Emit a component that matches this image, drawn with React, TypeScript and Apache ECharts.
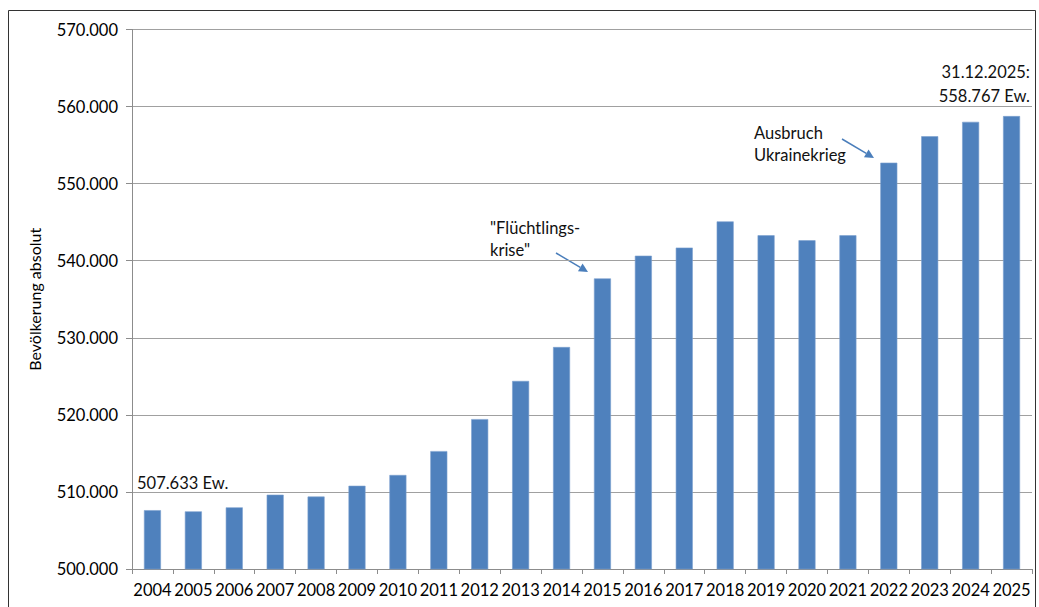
import React, { useEffect, useRef } from "react";
import * as echarts from "echarts";

const years = ["2004","2005","2006","2007","2008","2009","2010","2011","2012","2013","2014","2015","2016","2017","2018","2019","2020","2021","2022","2023","2024","2025"];
const population = [507633,507480,508000,509640,509400,510800,512200,515300,519450,524400,528800,537700,540650,541700,545100,543300,542650,543300,552720,556150,558020,558767];
const yTicks = { min: 500000, max: 570000, interval: 10000 };

const FONT = "Lato, 'Open Sans', sans-serif";
const fmt = (v: number) => {
  const s = Math.round(v).toString();
  return s.replace(/\B(?=(\d{3})+(?!\d))/g, ".");
};

function arrow(x1: number, y1: number, x2: number, y2: number, color: string) {
  const ang = Math.atan2(y2 - y1, x2 - x1);
  const len = 9, w = 4.5;
  const bx = x2 - len * Math.cos(ang), by = y2 - len * Math.sin(ang);
  const px = -Math.sin(ang) * w, py = Math.cos(ang) * w;
  return [
    { type: "line", shape: { x1, y1, x2: bx, y2: by }, style: { stroke: color, lineWidth: 1.5 } },
    { type: "polygon", shape: { points: [[x2, y2], [bx + px, by + py], [bx - px, by - py]] }, style: { fill: color } },
  ];
}

export default function App() {
  const ref = useRef<HTMLDivElement>(null);
  useEffect(() => {
    if (!ref.current) return;
    const chart = echarts.init(ref.current, null, { renderer: "svg" });
    const txt = { fontFamily: FONT, fontSize: 16.5, fill: "#111" };
    chart.setOption({
      animation: false,
      backgroundColor: "#fff",
      grid: { left: 132, right: 7, top: 29.5, bottom: 38, containLabel: false },
      xAxis: {
        type: "category",
        data: years,
        axisLine: { lineStyle: { color: "#8c8c8c", width: 1 } },
        axisTick: { show: true, length: 5, interval: 0, lineStyle: { color: "#8c8c8c" } },
        axisLabel: { color: "#000", fontFamily: FONT, fontSize: 16.5, margin: 12, interval: 0 },
      },
      yAxis: {
        type: "value",
        min: yTicks.min,
        max: yTicks.max,
        interval: yTicks.interval,
        name: "Bevölkerung absolut",
        nameLocation: "middle",
        nameGap: 90,
        nameTextStyle: { color: "#000", fontFamily: FONT, fontSize: 16 },
        axisLine: { show: true, lineStyle: { color: "#8c8c8c" } },
        axisTick: { show: true, length: 6, lineStyle: { color: "#8c8c8c" } },
        axisLabel: { color: "#000", fontFamily: FONT, fontSize: 16.5, margin: 14, formatter: (v: number) => fmt(v) },
        splitLine: { lineStyle: { color: "#a0a0a0", width: 1.2 } },
      },
      series: [
        {
          type: "bar",
          data: population,
          barWidth: 17,
          itemStyle: { color: "#4f81bd", borderColor: "#7aa0cf", borderWidth: 0.6 },
        },
      ],
      graphic: [
        { type: "rect", shape: { x: 8.5, y: 10.5, width: 1027, height: 610 }, style: { fill: "none", stroke: "#333", lineWidth: 1 }, silent: true },
        { type: "text", x: 137, y: 483, style: { ...txt, text: "507.633 Ew.", textVerticalAlign: "middle" } },
        { type: "text", x: 1030, y: 72, style: { ...txt, text: "31.12.2025:", textAlign: "right", textVerticalAlign: "middle" } },
        { type: "text", x: 1030, y: 96, style: { ...txt, text: "558.767 Ew.", textAlign: "right", textVerticalAlign: "middle" } },
        { type: "text", x: 490, y: 228, style: { ...txt, text: "\"Flüchtlings-", textVerticalAlign: "middle" } },
        { type: "text", x: 490, y: 250, style: { ...txt, text: "krise\"", textVerticalAlign: "middle" } },
        { type: "text", x: 754, y: 133, style: { ...txt, text: "Ausbruch", textVerticalAlign: "middle" } },
        { type: "text", x: 754, y: 155, style: { ...txt, text: "Ukrainekrieg", textVerticalAlign: "middle" } },
        ...arrow(556, 253, 588, 272, "#4a7ebb"),
        ...arrow(842, 139, 874, 158, "#4a7ebb"),
      ],
    });
    return () => chart.dispose();
  }, []);
  return <div ref={ref} style={{ position: "absolute", left: 0, top: 0, width: 1039, height: 607 }} />;
}
